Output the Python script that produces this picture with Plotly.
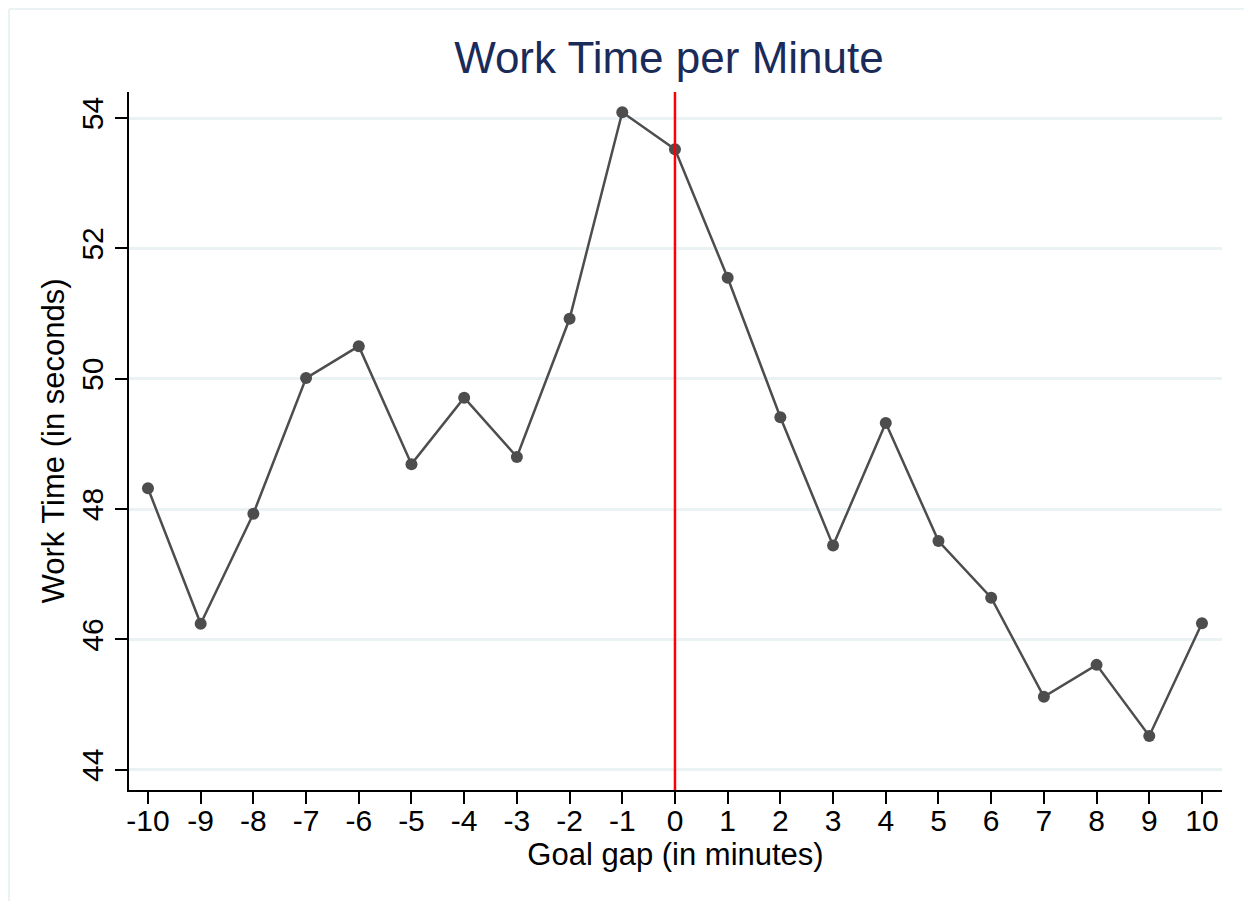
import plotly.graph_objects as go

goal_gap = [-10, -9, -8, -7, -6, -5, -4, -3, -2, -1, 0, 1, 2, 3, 4, 5, 6, 7, 8, 9, 10]
work_time = [48.32, 46.24, 47.93, 50.01, 50.50, 48.69, 49.71, 48.80, 50.92, 54.09, 53.52,
             51.55, 49.41, 47.44, 49.32, 47.51, 46.64, 45.12, 45.61, 44.52, 46.25]
y_ticks = [44, 46, 48, 50, 52, 54]
x_ticks = list(range(-10, 11))
x_tick_text = [str(v) for v in x_ticks]
cutoff = 0

W, H = 1236, 893
L, R, T, B = 121, 22, 84, 111
pw, ph = W - L - R, H - T - B

fig = go.Figure()
fig.add_trace(go.Scatter(
    x=goal_gap, y=work_time, mode="lines+markers",
    line=dict(color="#4d4d4d", width=2.5),
    marker=dict(color="#4d4d4d", size=12),
    showlegend=False, hoverinfo="skip"))

fig.add_shape(type="line", xref="x", yref="paper", x0=cutoff, x1=cutoff, y0=0, y1=1,
              line=dict(color="#ff0000", width=2.5))
# light outer frame (top and left edges)
fx0 = -(L - 1) / pw
fy1 = 1 + (T - 1) / ph
fig.add_shape(type="line", xref="paper", yref="paper", x0=fx0, x1=(W - L) / pw, y0=fy1, y1=fy1,
              line=dict(color="#eaf2f3", width=2), layer="below")
fig.add_shape(type="line", xref="paper", yref="paper", x0=fx0, x1=fx0, y0=-B / ph, y1=fy1,
              line=dict(color="#eaf2f3", width=2), layer="below")

font_family = "Liberation Sans, Arial, sans-serif"
fig.update_layout(
    width=W, height=H,
    margin=dict(l=L, r=R, t=T, b=B),
    paper_bgcolor="white", plot_bgcolor="white",
    font=dict(family=font_family, color="black", size=30),
    title=dict(text="Work Time per Minute", x=0.494, xanchor="center", xref="paper",
               y=1 - 50 / H, yanchor="middle", yref="container",
               font=dict(size=44, color="#1a2b5a", family=font_family)),
    xaxis=dict(range=[-10.36, 10.38], tickvals=x_ticks, ticktext=x_tick_text,
               ticks="outside", ticklen=12, ticklabelstandoff=-9,
               tickwidth=2, tickcolor="black", showline=True, linecolor="black", linewidth=2,
               showgrid=False, zeroline=False, tickfont=dict(size=30),
               title=dict(text="Goal gap (in minutes)", font=dict(size=31), standoff=7)),
    yaxis=dict(range=[43.69, 54.40], tickvals=y_ticks, ticks="outside", ticklen=12,
               tickwidth=2, tickcolor="black", showline=True, linecolor="black", linewidth=2,
               showgrid=True, gridcolor="#eaf2f3", gridwidth=2.5, zeroline=False,
               tickangle=-90, tickfont=dict(size=30),
               title=dict(text="Work Time (in seconds)", font=dict(size=31), standoff=2)),
)

fig.write_html("out.html")
